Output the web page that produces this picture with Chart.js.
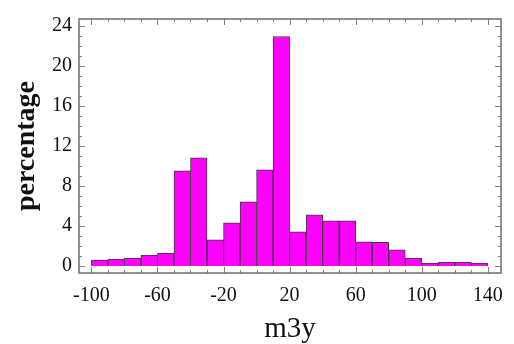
<!DOCTYPE html>
<html>
<head>
<meta charset="utf-8">
<script src="https://cdn.jsdelivr.net/npm/chart.js@4"></script>
<style>
  html, body { margin: 0; padding: 0; background: #fff; }
</style>
</head>
<body>
<canvas id="histChart" width="514" height="344"></canvas>
<script>
// histogram bins (left edges, width 10) and percentage per bin
const binStarts = [-100, -90, -80, -70, -60, -50, -40, -30, -20, -10, 0, 10,
                   20, 30, 40, 50, 60, 70, 80, 90, 100, 110, 120, 130];
const percents = [0.6, 0.7, 0.8, 1.1, 1.3, 9.5, 10.8, 2.6, 4.3, 6.4, 9.6, 22.9,
                  3.4, 5.1, 4.5, 4.5, 2.4, 2.35, 1.6, 0.8, 0.3, 0.4, 0.4, 0.3];
const binWidth = 10;

// tick labels
const xTicks = [-100, -60, -20, 20, 60, 100, 140];
const yTicks = [0, 4, 8, 12, 16, 20, 24];

const serif = "'Liberation Serif', 'DejaVu Serif', serif";

// frame with inward ticks, drawn like the original plot
const framePlugin = {
  id: 'frame',
  afterDatasetsDraw(chart) {
    const { ctx, chartArea: a, scales: { x, y } } = chart;
    ctx.save();
    ctx.strokeStyle = '#808080';
    ctx.lineWidth = 1;
    ctx.beginPath();
    // x ticks: minor every 10, major on labels
    for (let v = -100; v <= 140; v += 10) {
      const px = Math.round(x.getPixelForValue(v)) + 0.5;
      const len = xTicks.includes(v) ? 6 : 3;
      ctx.moveTo(px, a.bottom); ctx.lineTo(px, a.bottom - len);
      ctx.moveTo(px, a.top); ctx.lineTo(px, a.top + len);
    }
    // y ticks: minor every 1, major on labels
    for (let v = 0; v <= 24; v += 1) {
      const py = Math.round(y.getPixelForValue(v)) + 0.5;
      const len = yTicks.includes(v) ? 6 : 3;
      ctx.moveTo(a.left, py); ctx.lineTo(a.left + len, py);
      ctx.moveTo(a.right, py); ctx.lineTo(a.right - len, py);
    }
    ctx.stroke();
    ctx.strokeStyle = '#6e6e6e';
    ctx.lineWidth = 1.5;
    ctx.strokeRect(a.left, a.top, a.right - a.left, a.bottom - a.top);
    ctx.restore();
  }
};

const ctx = document.getElementById('histChart').getContext('2d');
new Chart(ctx, {
  type: 'bar',
  data: {
    datasets: [{
      data: binStarts.map((s, i) => ({ x: s + binWidth / 2, y: percents[i] })),
      backgroundColor: '#ff00ff',
      borderColor: '#3a3a3a',
      borderWidth: 1,
      barPercentage: 1,
      categoryPercentage: 1
    }]
  },
  options: {
    responsive: false,
    animation: false,
    devicePixelRatio: 1,
    layout: { padding: { top: 10, right: 6, left: 0, bottom: 0 } },
    plugins: {
      legend: { display: false },
      tooltip: { enabled: false }
    },
    scales: {
      x: {
        type: 'linear',
        min: -107.5,
        max: 148,
        offset: false,
        grid: { display: false, drawTicks: false },
        border: { display: false },
        afterBuildTicks: s => { s.ticks = xTicks.map(v => ({ value: v })); },
        afterFit: s => { s.height = 71; },
        ticks: {
          autoSkip: false,
          maxRotation: 0,
          padding: 11,
          color: '#111',
          font: { family: serif, size: 20 }
        },
        title: {
          display: true,
          text: 'm3y',
          color: '#111',
          padding: { top: 0, bottom: 0 },
          font: { family: serif, size: 29, lineHeight: 1 }
        }
      },
      y: {
        min: -0.7,
        max: 24.65,
        grid: { display: false, drawTicks: false },
        border: { display: false },
        afterBuildTicks: s => { s.ticks = yTicks.map(v => ({ value: v })); },
        afterFit: s => { s.width = 79; },
        ticks: {
          autoSkip: false,
          padding: 7,
          color: '#111',
          font: { family: serif, size: 20 }
        },
        title: {
          display: true,
          text: 'percentage',
          color: '#111',
          padding: { top: 13, bottom: 0 },
          font: { family: serif, size: 28, weight: 'bold', lineHeight: 1 }
        }
      }
    }
  },
  plugins: [framePlugin]
});
</script>
</body>
</html>
